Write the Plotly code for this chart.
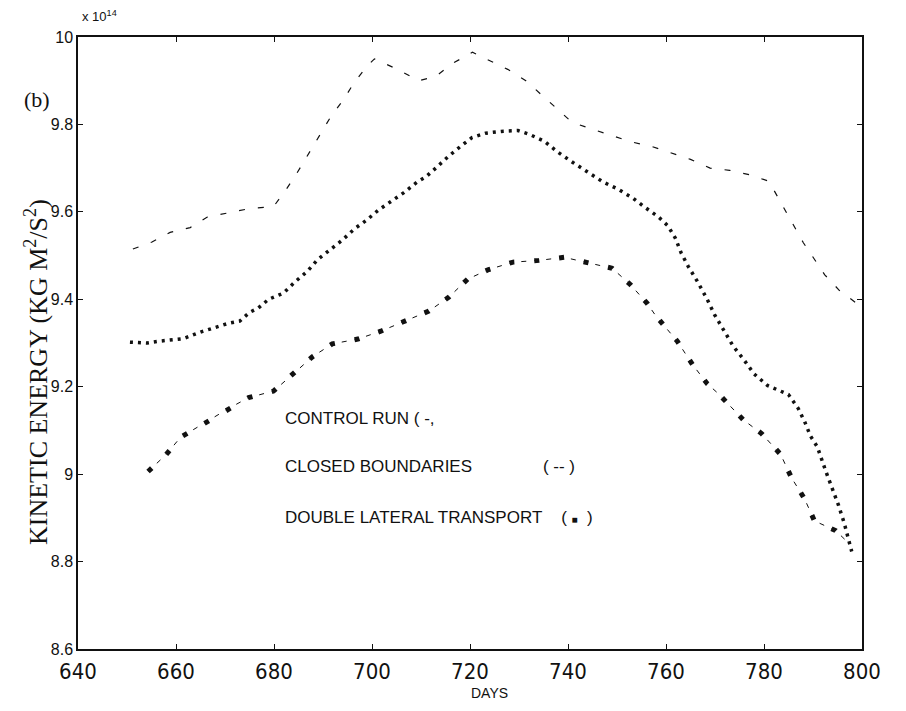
import plotly.graph_objects as go

# ---- data (days, kinetic energy x 1e14 kg m^2/s^2) ----
closed_days = [651.2, 655.1, 658.8, 662.9, 666.4, 671.7, 675.2, 679.9, 682.3, 684.6,
               686.8, 689.5, 691.5, 694.2, 696.2, 698.9, 700.5, 705.4, 709.5, 713.0,
               716.5, 720.5, 727.7, 731.4, 734.3, 737.7, 740.8, 744.7, 748.8, 752.9,
               757.0, 761.0, 765.0, 769.0, 773.0, 777.0, 781.0, 788.0, 792.4, 795.4, 799.0]
closed_vals = [9.515, 9.531, 9.553, 9.564, 9.588, 9.601, 9.608, 9.612, 9.648, 9.687,
               9.728, 9.780, 9.816, 9.857, 9.893, 9.932, 9.950, 9.925, 9.900, 9.910,
               9.940, 9.965, 9.926, 9.900, 9.870, 9.835, 9.805, 9.790, 9.775, 9.760,
               9.750, 9.735, 9.720, 9.700, 9.695, 9.685, 9.670, 9.530, 9.456, 9.420, 9.390]

control_days = [650.6, 654.1, 656.4, 661.5, 665.0, 667.6, 670.7, 673.0, 675.0, 676.8,
                678.9, 681.9, 684.4, 686.8, 688.9, 691.3, 694.0, 696.4, 698.9, 701.3,
                704.2, 706.5, 709.3, 711.0, 713.0, 715.5, 718.1, 720.4, 723.2, 726.3,
                729.8, 732.0, 735.1, 738.0, 741.0, 744.3, 747.2, 750.2, 753.3, 755.5,
                758.4, 760.4, 761.9, 763.1, 764.5, 766.4, 768.4, 769.9, 771.7, 773.7,
                775.8, 778.0, 780.7, 783.4, 785.0, 787.0, 788.3, 789.5, 790.9, 792.6,
                793.8, 795.2, 796.4, 797.9]
control_vals = [9.302, 9.300, 9.304, 9.310, 9.325, 9.335, 9.345, 9.350, 9.370, 9.380,
                9.400, 9.414, 9.441, 9.464, 9.491, 9.512, 9.536, 9.561, 9.581, 9.604,
                9.627, 9.644, 9.669, 9.680, 9.700, 9.726, 9.750, 9.770, 9.780, 9.784,
                9.786, 9.778, 9.762, 9.736, 9.713, 9.690, 9.668, 9.652, 9.631, 9.612,
                9.589, 9.568, 9.540, 9.506, 9.476, 9.441, 9.400, 9.365, 9.330, 9.293,
                9.263, 9.229, 9.203, 9.191, 9.182, 9.150, 9.120, 9.087, 9.062, 9.007,
                8.972, 8.929, 8.887, 8.823]

dlt_days = [654.3, 658.0, 660.9, 666.8, 670.7, 674.8, 679.9, 684.0, 687.9, 691.9,
            697.1, 701.8, 706.9, 711.6, 715.7, 719.5, 723.8, 728.8, 734.1, 739.2,
            744.3, 749.0, 752.7, 756.2, 757.8, 762.3, 765.4, 768.4, 770.7, 773.9,
            775.8, 779.5, 783.4, 785.6, 788.3, 790.3, 794.6, 797.5]
dlt_vals = [9.006, 9.045, 9.084, 9.123, 9.150, 9.175, 9.190, 9.230, 9.269, 9.298,
            9.309, 9.327, 9.351, 9.373, 9.405, 9.446, 9.468, 9.485, 9.489, 9.496,
            9.483, 9.471, 9.434, 9.390, 9.364, 9.304, 9.251, 9.207, 9.184, 9.147,
            9.124, 9.093, 9.045, 8.992, 8.943, 8.893, 8.871, 8.840]

x_ticks = [640, 660, 680, 700, 720, 740, 760, 780, 800]
y_ticks = [8.6, 8.8, 9.0, 9.2, 9.4, 9.6, 9.8, 10.0]
y_tick_text = ["8.6", "8.8", "9", "9.2", "9.4", "9.6", "9.8", "10"]

NB = "\u00a0"
legend_lines = ["CONTROL RUN ( -,",
                "CLOSED BOUNDARIES" + NB * 15 + "( -- )",
                "DOUBLE LATERAL TRANSPORT" + NB * 4 + "(" + NB
                + "<span style='font-size:10px'>■</span>" + NB * 2 + ")"]

INK = "#111111"
fig = go.Figure()

fig.add_trace(go.Scatter(x=closed_days, y=closed_vals, mode="lines",
                         line=dict(color=INK, width=1.2, dash="6px,13px"),
                         showlegend=False, hoverinfo="skip"))
fig.add_trace(go.Scatter(x=control_days, y=control_vals, mode="lines",
                         line=dict(color=INK, width=3.5, dash="3px,5px"),
                         showlegend=False, hoverinfo="skip"))
# dash-dot: thin dashes + heavy dots sharing the same path (same period)
fig.add_trace(go.Scatter(x=dlt_days, y=dlt_vals, mode="lines",
                         line=dict(color=INK, width=1, dash="1px,11px,5px,8px"),
                         showlegend=False, hoverinfo="skip"))
fig.add_trace(go.Scatter(x=dlt_days, y=dlt_vals, mode="lines",
                         line=dict(color=INK, width=5, dash="5px,20px"),
                         showlegend=False, hoverinfo="skip"))

axis_common = dict(showgrid=False, zeroline=False, showline=True, linecolor=INK,
                   linewidth=1.5, mirror="ticks", ticks="inside", ticklen=5,
                   tickcolor=INK, tickwidth=1)

fig.update_xaxes(range=[640, 800], tickvals=x_ticks,
                 tickfont=dict(family="Liberation Sans Narrow, DejaVu Sans Condensed, Liberation Sans, Arial, sans-serif",
                               size=22, color=INK),
                 ticklabelstandoff=2, **axis_common)
fig.update_yaxes(range=[8.6, 10.0], tickvals=y_ticks, ticktext=y_tick_text,
                 tickfont=dict(family="Liberation Sans, Arial, sans-serif", size=16, color=INK),
                 **axis_common)

OFF = 8  # page body margin
W, H = 890, 695
L, T = 78 - OFF, 37 - OFF
R = W - (862 - OFF)
B = H - (649 - OFF)
pw, ph = W - L - R, H - T - B

def px(x):
    return (x - OFF - L) / pw

def py(y):
    return (H - B - (y - OFF)) / ph

ann = []
ann.append(dict(text="(b)", x=px(37), y=py(100), xref="paper", yref="paper",
                xanchor="center", yanchor="middle", showarrow=False,
                font=dict(family="Liberation Serif, Times New Roman, serif", size=22, color=INK)))
ann.append(dict(text="x 10<sup>14</sup>", x=px(80), y=py(16), xref="paper", yref="paper",
                xanchor="left", yanchor="middle", showarrow=False,
                font=dict(family="Liberation Sans, Arial, sans-serif", size=13, color=INK)))
ann.append(dict(text="KINETIC ENERGY (KG M<sup>2</sup>/S<sup>2</sup>)", textangle=-90,
                x=px(36), y=py(372), xref="paper", yref="paper",
                xanchor="center", yanchor="middle", showarrow=False,
                font=dict(family="Liberation Serif, Times New Roman, serif", size=26, color=INK)))
ann.append(dict(text="DAYS", x=px(489), y=py(702.5), xref="paper", yref="paper",
                xanchor="center", yanchor="bottom", showarrow=False,
                font=dict(family="Liberation Sans, Arial, sans-serif", size=14, color=INK)))
for txt, yy in zip(legend_lines, [418, 467, 517]):
    ann.append(dict(text=txt, x=px(283), y=py(yy), xref="paper", yref="paper",
                    xanchor="left", yanchor="middle", showarrow=False,
                    font=dict(family="Liberation Sans, Arial, sans-serif", size=17, color=INK)))

fig.update_layout(width=W, height=H, margin=dict(l=L, r=R, t=T, b=B),
                  plot_bgcolor="white", paper_bgcolor="white",
                  showlegend=False, annotations=ann)

fig.write_html("out.html")
